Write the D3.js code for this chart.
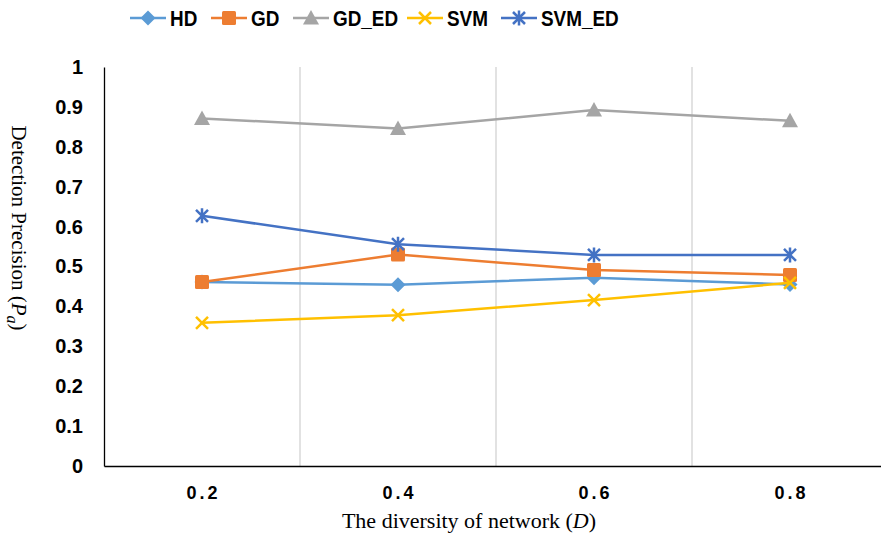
<!DOCTYPE html>
<html>
<head>
<meta charset="utf-8">
<script src="https://cdn.jsdelivr.net/npm/d3@7"></script>
<style>
  body { margin: 0; background: #fff; }
  svg { display: block; }
</style>
</head>
<body>
<div id="chart"></div>
<script>
// data
const categories = ["0.2", "0.4", "0.6", "0.8"];
const hd     = [0.461, 0.454, 0.472, 0.455];
const gd     = [0.461, 0.530, 0.491, 0.479];
const gdEd   = [0.871, 0.846, 0.892, 0.865];
const svm    = [0.359, 0.378, 0.416, 0.459];
const svmEd  = [0.627, 0.556, 0.529, 0.529];
const yTicks = [0, 0.1, 0.2, 0.3, 0.4, 0.5, 0.6, 0.7, 0.8, 0.9, 1];

const series = [
    {name: "HD", values: hd, color: "#5B9BD5", marker: "diamond"},
    {name: "GD", values: gd, color: "#ED7D31", marker: "square"},
    {name: "GD_ED", values: gdEd, color: "#A5A5A5", marker: "triangle"},
    {name: "SVM", values: svm, color: "#FFC000", marker: "x"},
    {name: "SVM_ED", values: svmEd, color: "#4472C4", marker: "star"}
];

const width = 881, height = 537;
const margin = {left: 104, right: -7, top: 67, bottom: 71};

const svg = d3.select("#chart").append("svg")
    .attr("width", width)
    .attr("height", height);

const x = d3.scaleBand()
    .domain(categories)
    .range([margin.left, width - margin.right]);

const y = d3.scaleLinear()
    .domain([0, 1])
    .range([height - margin.bottom, margin.top]);

// vertical gridlines between categories
svg.append("g")
    .selectAll("line")
    .data(categories.slice(1))
    .enter()
    .append("line")
    .attr("x1", function(d) { return x(d); })
    .attr("x2", function(d) { return x(d); })
    .attr("y1", y(1))
    .attr("y2", y(0))
    .attr("stroke", "#d9d9d9")
    .attr("stroke-width", 1.5);

// y axis
const yAxis = svg.append("g")
    .attr("transform", "translate(" + margin.left + ",0)")
    .call(d3.axisLeft(y).tickValues(yTicks).tickSize(0).tickPadding(21)
        .tickFormat(function(d) { return d === 0 || d === 1 ? d3.format("d")(d) : d3.format(".1f")(d); }));
yAxis.select(".domain").attr("stroke", "#000").attr("stroke-width", 1.3);
yAxis.selectAll("text")
    .attr("font-family", "'Liberation Sans', Arial, sans-serif")
    .attr("font-weight", "bold")
    .attr("font-size", 20)
    .attr("fill", "#000");

// x axis
const xAxis = svg.append("g")
    .attr("transform", "translate(0," + y(0) + ")")
    .call(d3.axisBottom(x).tickSize(0).tickPadding(20));
xAxis.select(".domain").attr("stroke", "#000").attr("stroke-width", 1.3);
xAxis.selectAll("text")
    .attr("font-family", "'Liberation Sans', Arial, sans-serif")
    .attr("font-weight", "bold")
    .attr("font-size", 18)
    .attr("letter-spacing", "3px")
    .attr("dx", "1.5px")
    .attr("fill", "#000");

// axis titles
svg.append("text")
    .attr("x", 469)
    .attr("y", 528)
    .attr("text-anchor", "middle")
    .attr("font-family", "'Liberation Serif', 'Times New Roman', serif")
    .attr("font-size", 22)
    .html("The diversity of network (<tspan font-style='italic'>D</tspan>)");

svg.append("text")
    .attr("transform", "translate(12,228) rotate(90)")
    .attr("text-anchor", "middle")
    .attr("font-family", "'Liberation Serif', 'Times New Roman', serif")
    .attr("font-size", 21)
    .html("Detection Precision (<tspan font-style='italic'>P</tspan><tspan font-style='italic' font-size='16' dy='5'>a</tspan><tspan dy='-5'>)</tspan>");

function drawMarker(g, type, color) {
    if (type === "diamond") {
        g.append("path").attr("d", "M0,-7.5L7.5,0L0,7.5L-7.5,0Z").attr("fill", color);
    } else if (type === "square") {
        g.append("rect").attr("x", -7).attr("y", -7).attr("width", 14).attr("height", 14)
            .attr("rx", 1.5).attr("fill", color);
    } else if (type === "triangle") {
        g.append("path").attr("d", "M0,-8L8,6.5L-8,6.5Z").attr("fill", color);
    } else if (type === "x") {
        g.append("path").attr("d", "M-6,-6L6,6M-6,6L6,-6")
            .attr("stroke", color).attr("stroke-width", 2.5).attr("fill", "none");
    } else if (type === "star") {
        g.append("path").attr("d", "M-6,-6L6,6M-6,6L6,-6M0,-7.5L0,7.5")
            .attr("stroke", color).attr("stroke-width", 2.5).attr("fill", "none");
    }
}

const line = d3.line()
    .x(function(d, i) { return x(categories[i]) + x.bandwidth() / 2; })
    .y(function(d) { return y(d); });

series.forEach(function(s) {
    const g = svg.append("g").attr("class", "series");
    g.append("path")
        .datum(s.values)
        .attr("d", line)
        .attr("fill", "none")
        .attr("stroke", s.color)
        .attr("stroke-width", 2.5);
    g.selectAll("g.mk")
        .data(s.values)
        .enter()
        .append("g")
        .attr("class", "mk")
        .attr("transform", function(d, i) {
            return "translate(" + (x(categories[i]) + x.bandwidth() / 2) + "," + y(d) + ")";
        })
        .each(function() { drawMarker(d3.select(this), s.marker, s.color); });
});

// legend (text squeezed a little, the original font is narrow)
const legendX = [130, 211, 293, 407, 501];
const legend = svg.append("g");
series.forEach(function(s, i) {
    const lg = legend.append("g").attr("transform", "translate(" + legendX[i] + ",18)");
    lg.append("line").attr("x1", 0).attr("x2", 36).attr("y1", 0).attr("y2", 0)
        .attr("stroke", s.color).attr("stroke-width", 2.5);
    const m = lg.append("g").attr("transform", "translate(18,0)");
    drawMarker(m, s.marker, s.color);
    lg.append("text")
        .attr("transform", "translate(40,8) scale(0.86,1)")
        .attr("font-family", "'Liberation Sans', Arial, sans-serif")
        .attr("font-weight", "bold")
        .attr("font-size", 22)
        .text(s.name);
});
</script>
</body>
</html>
